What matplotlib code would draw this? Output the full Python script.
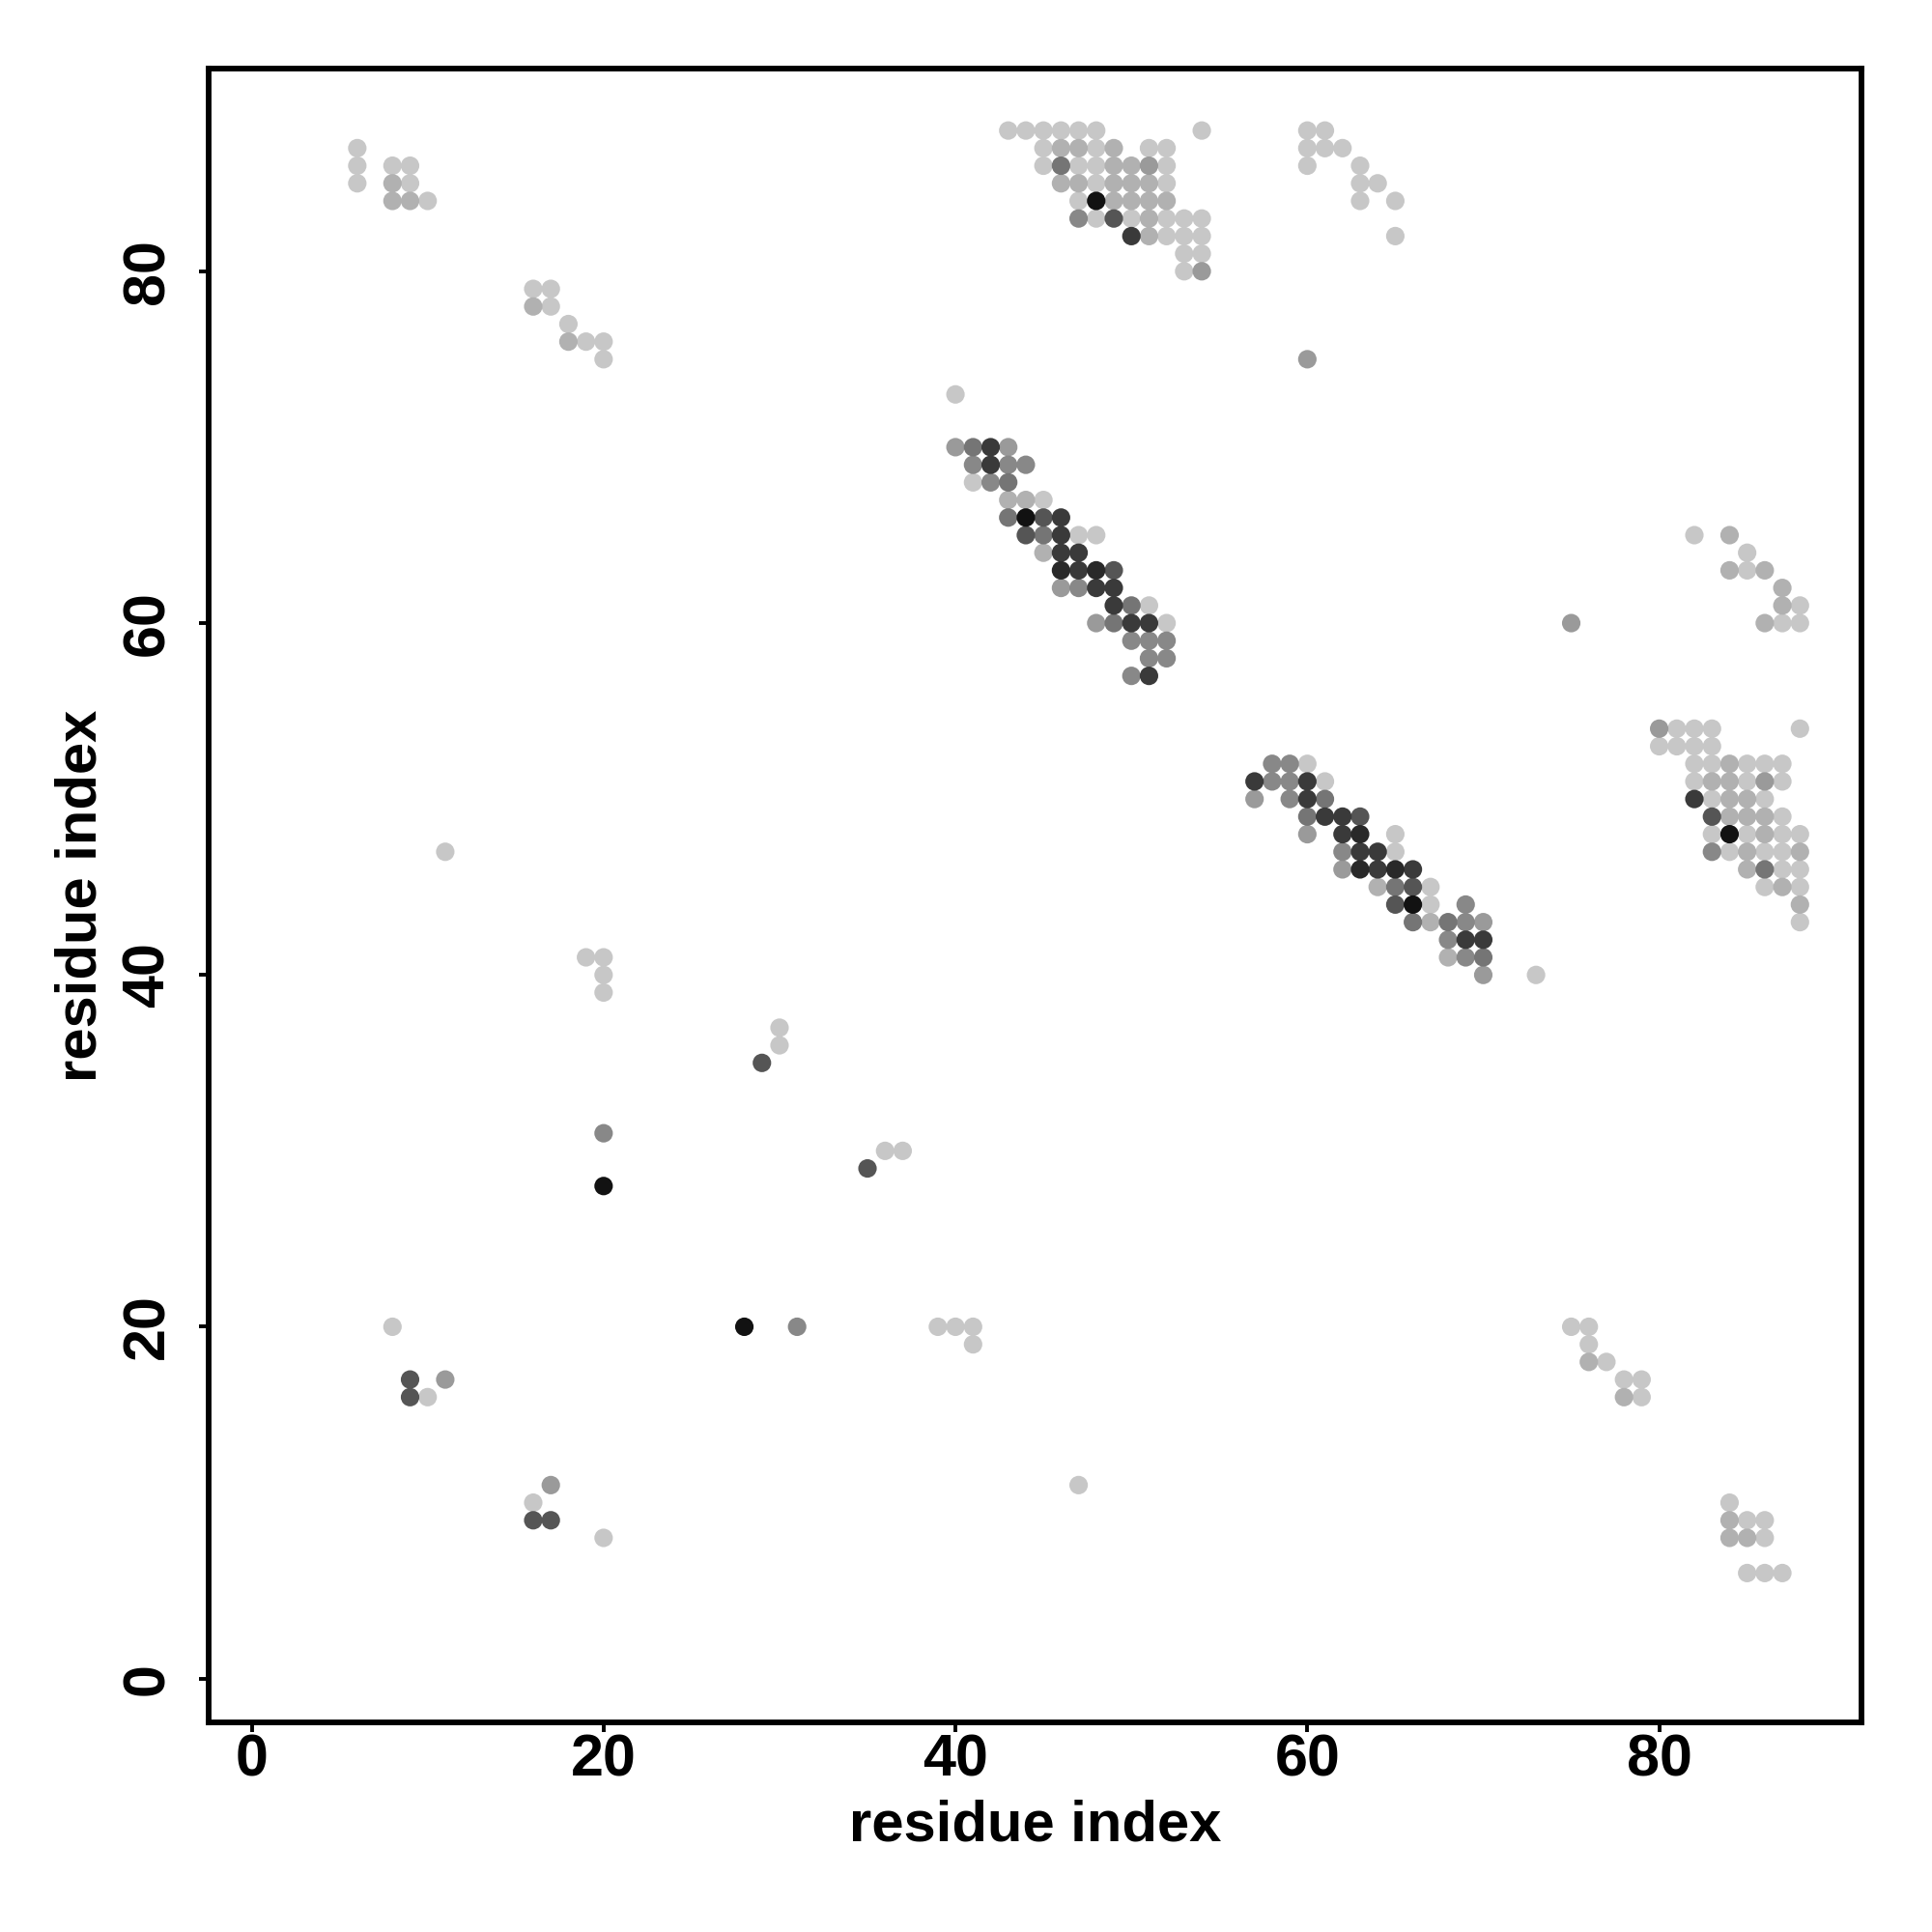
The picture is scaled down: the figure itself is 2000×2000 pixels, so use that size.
import matplotlib
matplotlib.use("Agg")
import matplotlib.pyplot as plt
from matplotlib import font_manager
import numpy as np

# contact strength levels (0 = weakest / lightest, 1 = strongest / black)
L, B, M, N, O, D, E, F, K = 0.0, 0.12, 0.25, 0.35, 0.45, 0.63, 0.78, 0.87, 1.0

# ---- data: (residue i, residue j, strength) ----
top_left = [
    (6, 87, L), (6, 86, L), (6, 85, L),
    (8, 86, L), (9, 86, L), (8, 85, B), (9, 85, L), (8, 84, B), (9, 84, B), (10, 84, L),
    (16, 79, L), (17, 79, L), (16, 78, B), (17, 78, L), (18, 77, L),
    (18, 76, B), (19, 76, L), (20, 76, L), (20, 75, L),
]

top_cluster = [
    (43, 88, L), (44, 88, L), (45, 88, L), (46, 88, L), (47, 88, L), (48, 88, L), (54, 88, L),
    (45, 87, L), (46, 87, B), (47, 87, B), (48, 87, L), (49, 87, B), (51, 87, L), (52, 87, L),
    (45, 86, L), (46, 86, O), (47, 86, L), (48, 86, L), (49, 86, B), (50, 86, B), (51, 86, M), (52, 86, L),
    (46, 85, B), (47, 85, B), (48, 85, L), (49, 85, B), (50, 85, B), (51, 85, B), (52, 85, L),
    (47, 84, L), (48, 84, K), (49, 84, B), (50, 84, B), (51, 84, B), (52, 84, B),
    (47, 83, N), (48, 83, L), (49, 83, D), (50, 83, L), (51, 83, B), (52, 83, L), (53, 83, L), (54, 83, L),
    (50, 82, E), (51, 82, B), (52, 82, L), (53, 82, L), (54, 82, L),
    (53, 81, L), (54, 81, L),
    (53, 80, L), (54, 80, M),
]

top_right = [
    (60, 88, L), (61, 88, L), (60, 87, L), (61, 87, L), (62, 87, L), (60, 86, L),
    (63, 86, L), (63, 85, L), (64, 85, L), (63, 84, L), (65, 84, L), (65, 82, L),
    (60, 75, M), (75, 60, M),
]

diag_1 = [
    (40, 73, L),
    (40, 70, M), (41, 70, O), (42, 70, E), (43, 70, M),
    (41, 69, N), (42, 69, E), (43, 69, N), (44, 69, N),
    (41, 68, L), (42, 68, N), (43, 68, O),
    (43, 67, B), (44, 67, B), (45, 67, L),
    (43, 66, O), (44, 66, K), (45, 66, D), (46, 66, E),
    (44, 65, D), (45, 65, O), (46, 65, E), (47, 65, L), (48, 65, L),
    (45, 64, B), (46, 64, E), (47, 64, E),
    (46, 63, F), (47, 63, E), (48, 63, F), (49, 63, D),
    (46, 62, M), (47, 62, N), (48, 62, E), (49, 62, E),
    (49, 61, E), (50, 61, O), (51, 61, L),
    (48, 60, M), (49, 60, O), (50, 60, E), (51, 60, E), (52, 60, L),
    (50, 59, N), (51, 59, N), (52, 59, N),
    (51, 58, N), (52, 58, N),
    (50, 57, N), (51, 57, E),
]

diag_2 = [
    (58, 52, N), (59, 52, N), (60, 52, L),
    (57, 51, E), (58, 51, N), (59, 51, N), (60, 51, E), (61, 51, L),
    (57, 50, M), (59, 50, N), (60, 50, E), (61, 50, O),
    (60, 49, O), (61, 49, E), (62, 49, E), (63, 49, D),
    (60, 48, M), (62, 48, E), (63, 48, F), (65, 48, L),
    (62, 47, N), (63, 47, E), (64, 47, E), (65, 47, L),
    (62, 46, M), (63, 46, F), (64, 46, E), (65, 46, F), (66, 46, E),
    (64, 45, B), (65, 45, O), (66, 45, D), (67, 45, L),
    (65, 44, D), (66, 44, K), (67, 44, L), (69, 44, N),
    (66, 43, O), (67, 43, B), (68, 43, O), (69, 43, N), (70, 43, M),
    (68, 42, N), (69, 42, E), (70, 42, E),
    (68, 41, B), (69, 41, N), (70, 41, O),
    (70, 40, M), (73, 40, L),
]

right_cluster = [
    (80, 54, M), (81, 54, L), (82, 54, L), (83, 54, L), (88, 54, L),
    (80, 53, L), (81, 53, L), (82, 53, L), (83, 53, L),
    (82, 52, L), (83, 52, L), (84, 52, B), (85, 52, L), (86, 52, L), (87, 52, L),
    (82, 51, L), (83, 51, B), (84, 51, B), (85, 51, L), (86, 51, M), (87, 51, L),
    (82, 50, E), (83, 50, L), (84, 50, B), (85, 50, B), (86, 50, L),
    (83, 49, D), (84, 49, B), (85, 49, B), (86, 49, B), (87, 49, L),
    (83, 48, L), (84, 48, K), (85, 48, L), (86, 48, B), (87, 48, L), (88, 48, L),
    (83, 47, N), (84, 47, L), (85, 47, B), (86, 47, L), (87, 47, L), (88, 47, B),
    (85, 46, B), (86, 46, O), (87, 46, L), (88, 46, L),
    (86, 45, L), (87, 45, B), (88, 45, L),
    (88, 44, B), (88, 43, L),
    (82, 65, L), (84, 65, B), (85, 64, L), (84, 63, B), (85, 63, L), (86, 63, B),
    (87, 62, B), (87, 61, B), (88, 61, L), (86, 60, B), (87, 60, L), (88, 60, L),
]

scattered = [
    (11, 47, L), (19, 41, L), (20, 41, L), (20, 40, L), (20, 39, L),
    (30, 37, L), (30, 36, L), (29, 35, D), (20, 31, N), (20, 28, K),
    (35, 29, D), (36, 30, L), (37, 30, L),
    (8, 20, L), (28, 20, K), (31, 20, N), (39, 20, L), (40, 20, L), (41, 20, L), (41, 19, L),
    (9, 17, D), (11, 17, M), (9, 16, D), (10, 16, L),
    (17, 11, M), (16, 10, L), (16, 9, D), (17, 9, D), (20, 8, L), (47, 11, L),
    (75, 20, L), (76, 20, L), (76, 19, L), (76, 18, B), (77, 18, L),
    (78, 17, L), (79, 17, L), (78, 16, B), (79, 16, L),
    (84, 10, L), (84, 9, B), (85, 9, L), (86, 9, L),
    (84, 8, B), (85, 8, B), (86, 8, L), (85, 6, L), (86, 6, L), (87, 6, L),
]

groups = [top_left, top_cluster, top_right, diag_1, diag_2, right_cluster, scattered]
pts = [p for g in groups for p in g]
res_i = np.array([p[0] for p in pts], dtype=float)
res_j = np.array([p[1] for p in pts], dtype=float)
strength = np.array([p[2] for p in pts], dtype=float)

x_ticks = [0, 20, 40, 60, 80]
y_ticks = [0, 20, 40, 60, 80]

# ---- plot ----
plt.rcParams['font.family'] = ['Liberation Sans', 'DejaVu Sans']
available = {f.name for f in font_manager.fontManager.ttflist}
tick_family = ['Liberation Sans Narrow', 'Liberation Sans', 'DejaVu Sans'] \
    if 'Liberation Sans Narrow' in available else ['Liberation Sans', 'DejaVu Sans']
tick_size = 47 if 'Liberation Sans Narrow' in available else 44

fig = plt.figure(figsize=(20, 20), dpi=100)
ax = fig.add_axes([0.1078, 0.1084, 0.8559, 0.8559])

gray = 0.78 - 0.71 * strength
colors = [(g, g, g) for g in gray]
order = np.argsort(strength)
ax.scatter(res_i[order], res_j[order], s=190, c=[colors[k] for k in order],
           edgecolors='none', zorder=3)

ax.set_xlim(-2.47, 91.52)
ax.set_ylim(-2.5, 91.5)
ax.set_xticks(x_ticks)
ax.set_yticks(y_ticks)
ax.set_xticklabels([str(t) for t in x_ticks], fontsize=tick_size, fontweight='bold',
                   family=tick_family)
ax.set_yticklabels([str(t) for t in y_ticks], fontsize=tick_size, fontweight='bold',
                   family=tick_family, rotation=90, va='center')
ax.tick_params(axis='both', direction='out', length=7, width=2.8, color='black')
ax.tick_params(axis='x', pad=1)
ax.tick_params(axis='y', pad=17)
for sp in ax.spines.values():
    sp.set_linewidth(4.2)
    sp.set_color('black')

ax.set_xlabel('residue index', fontsize=43, fontweight='bold', labelpad=8)
ax.set_ylabel('residue index', fontsize=43, fontweight='bold', labelpad=10)

fig.savefig('out.png', dpi=100, facecolor='white')
